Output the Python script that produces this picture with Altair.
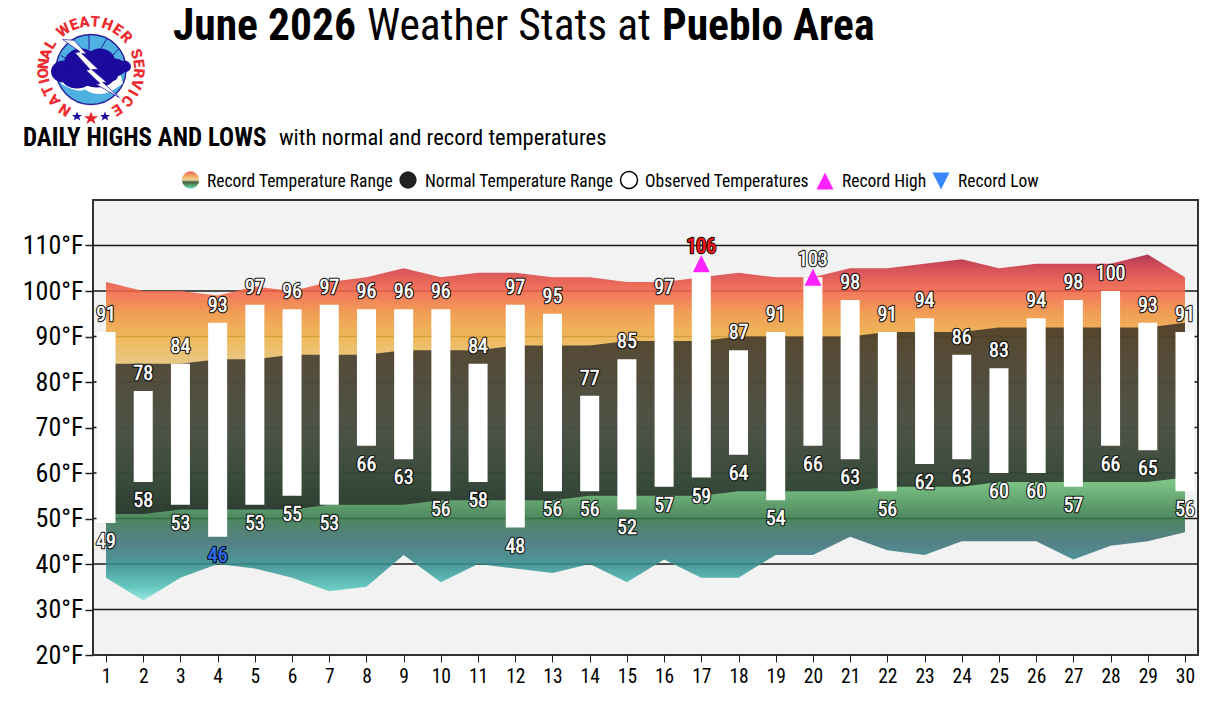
import base64
import math
import altair as alt
import pandas as pd

# ---- data -------------------------------------------------------------------
days = list(range(1, 31))
obs_high = [91,78,84,93,97,96,97,96,96,96,84,97,95,77,85,97,106,87,91,103,98,91,94,86,83,94,98,100,93,91]
obs_low = [49,58,53,46,53,55,53,66,63,56,58,48,56,56,52,57,59,64,54,66,63,56,62,63,60,60,57,66,65,56]
normal_high = [84,84,84,85,85,86,86,86,87,87,87,88,88,88,89,89,89,90,90,90,90,91,91,91,92,92,92,92,92,93]
normal_low = [51,51,52,52,52,52,53,53,53,54,54,54,54,55,55,55,55,56,56,56,56,57,57,57,58,58,58,58,58,59]
record_high = [102,100,100,99,101,100,102,103,105,103,104,104,103,103,102,102,103,104,103,103,105,105,106,107,105,106,106,106,108,103]
record_low = [37,32,37,40,39,37,34,35,42,36,40,39,38,40,36,41,37,37,42,42,46,43,42,45,45,45,41,44,45,47]
record_high_days = [17, 20]
record_high_vals = [106, 103]
y_ticks = [20, 30, 40, 50, 60, 70, 80, 90, 100, 110, 120]

FONT = "Roboto Condensed, Liberation Sans Narrow, Roboto, sans-serif"

W, H = 1105, 455
LEFT, TOP = 93, 200
X_DOM = [0.65, 30.35]
Y_DOM = [20, 120]


def dx(px):
    return X_DOM[0] + (px - LEFT) / W * (X_DOM[1] - X_DOM[0])


def dy(py):
    return Y_DOM[1] - (py - TOP) / H * (Y_DOM[1] - Y_DOM[0])


xs = alt.Scale(domain=X_DOM, nice=False, zero=False, padding=0)
ys = alt.Scale(domain=Y_DOM, nice=False, zero=False, padding=0)
x_axis = alt.Axis(values=days, format="d", grid=False, domain=False, tickColor="#222222", tickSize=7, tickWidth=1,
                  labelFont=FONT, labelFontSize=19.5, labelColor="#000000", labelPadding=5, title=None,
                  labelFlush=False, labelOverlap=False)
y_axis = alt.Axis(values=y_ticks[:-1], labelExpr="datum.value + '°F'", grid=False, domain=False,
                  tickColor="#222222", tickSize=8, tickWidth=1.5, labelFont=FONT, labelFontSize=26,
                  labelColor="#000000", labelPadding=2, title=None, labelOverlap=False)
X = lambda f: alt.X(f, type="quantitative", scale=xs, axis=x_axis)
Y = lambda f: alt.Y(f, type="quantitative", scale=ys, axis=y_axis)

df = pd.DataFrame({
    "day": days, "oh": obs_high, "ol": obs_low, "nh": normal_high,
    "nl": normal_low, "rh": record_high, "rl": record_low,
})

stops = [(108, "#a81e3c"), (105, "#d23c44"), (100, "#f46548"), (95, "#f09440"), (90, "#eeb045"),
         (85, "#e8c070"), (70, "#c8e0ac"), (58, "#6cbc76"), (50, "#37794a"), (45, "#407078"),
         (40, "#348c8c"), (35, "#52c2b8"), (32, "#90e6de")]
grad = alt.LinearGradient(
    gradient="linear", x1=0, x2=0, y1=0, y2=1,
    stops=[alt.GradientStop(offset=(108 - v) / 76, color=c) for v, c in stops],
)

grid = alt.Chart(pd.DataFrame({"v": y_ticks[1:-1]})).mark_rule(color="#1a1a1a", strokeWidth=1.4).encode(
    y=Y("v"))

record_area = alt.Chart(df).mark_area(fill=grad, opacity=0.88).encode(x=X("day"), y=Y("rh"), y2="rl")
normal_area = alt.Chart(df).mark_area(fill="#202020", opacity=0.74).encode(x=X("day"), y=Y("nh"), y2="nl")
bars = alt.Chart(df).mark_bar(color="#ffffff", size=19, clip=False).encode(x=X("day"), y=Y("ol"), y2="oh")

up = "M0,-0.5L0.5,0.5L-0.5,0.5Z"
down = "M0,0.5L0.5,-0.5L-0.5,-0.5Z"
rec_df = pd.DataFrame({"day": record_high_days, "v": record_high_vals})
tri = alt.Chart(rec_df).mark_point(shape=up, filled=True, color="#ff22ff", size=1156, opacity=1).encode(
    x=X("day"), y=Y("v"))


def labels(frame, field, yoff, fill="#ffffff"):
    base = alt.Chart(frame).encode(x=X("day"), y=Y(field), text=alt.Text(field, type="quantitative"))
    kw = dict(font=FONT, fontSize=20, baseline="middle", align="center", dy=yoff)
    return (base.mark_text(stroke="#000000", strokeWidth=2.6, strokeJoin="round", fill="#000000", **kw)
            + base.mark_text(fill=fill, stroke=fill, strokeWidth=0.6, **kw))


hi_labels = labels(df[df.day != 17], "oh", -17)
lo_labels = labels(df[df.day != 4], "ol", 19)
rec_hi_lab = labels(df[df.day == 17], "oh", -17, "#ff1a1a")
rec_lo_lab = labels(df[df.day == 4], "ol", 19, "#2f6ff0")

# ---- titles and legend ------------------------------------------------------
title_parts = [
    ("June 2026", 173, 27, 43.5, "bold"),
    ("Weather Stats at", 367, 27, 43.5, "normal"),
    ("Pueblo Area", 662, 27, 43.5, "bold"),
    ("DAILY HIGHS AND LOWS", 23, 137.5, 25, "bold"),
    ("with normal and record temperatures", 279, 138, 22.5, "normal"),
    ("Record Temperature Range", 207, 181.5, 17.5, "normal"),
    ("Normal Temperature Range", 425, 181.5, 17.5, "normal"),
    ("Observed Temperatures", 645, 181.5, 17.5, "normal"),
    ("Record High", 842, 181.5, 17.5, "normal"),
    ("Record Low", 958, 181.5, 17.5, "normal"),
]
texts = []
for t, px, py, size, weight in title_parts:
    d = pd.DataFrame({"x": [dx(px)], "y": [dy(py)], "t": [t]})
    texts.append(alt.Chart(d).mark_text(font=FONT, fontSize=size, fontWeight=weight, align="left",
                                        baseline="middle", color="#000000", clip=False)
                 .encode(x=X("x"), y=Y("y"), text="t:N"))


def sym(px, py, **kw):
    d = pd.DataFrame({"x": [dx(px)], "y": [dy(py)]})
    return alt.Chart(d).mark_point(opacity=1, **kw).encode(x=X("x"), y=Y("y"))


icon_grad = alt.LinearGradient(
    gradient="linear", x1=0, x2=0, y1=0, y2=1,
    stops=[alt.GradientStop(offset=o, color=c) for o, c in [
        (0, "#e8604f"), (0.3, "#f2b060"), (0.5, "#e8d89a"), (0.62, "#4a5a48"), (0.78, "#4f9a60"), (1, "#70d8cc")]],
)
legend_syms = [
    sym(190.5, 180, shape="circle", filled=True, fill=icon_grad, size=300, strokeWidth=0),
    sym(408, 180, shape="circle", filled=True, fill="#222222", size=300, strokeWidth=0),
    sym(629, 180, shape="circle", filled=False, stroke="#000000", fill="#ffffff", size=290, strokeWidth=1.5),
    sym(825, 181, shape=up, filled=True, color="#ff22ff", size=1156),
    sym(941, 181, shape=down, filled=True, color="#3a86f8", size=1156),
]

# ---- logo -------------------------------------------------------------------
logo_svg = """<svg xmlns='http://www.w3.org/2000/svg' width='120' height='120' viewBox='-60 -60 120 120'>
<circle r='35' fill='#4fb0e2' stroke='#2a1f9a' stroke-width='1.4'/>
<path d='M-30,14 Q-14,24 -6,20 Q6,28 20,22 L32,14 L28,0 L-28,0 Z' fill='#ffffff'/>
<g stroke='#2a1f9a' stroke-width='1' fill='none'><path d='M-2,-35 L-2,-20'/><path d='M16,-31 L8,-18'/><path d='M28,-21 L18,-10'/><path d='M-30,-14 L-20,-8'/></g>
<g fill='#1c0a9e'><ellipse cx='-27' cy='2' rx='13' ry='11'/><ellipse cx='-10' cy='-6' rx='17' ry='15'/><ellipse cx='9' cy='-8' rx='15' ry='13'/><ellipse cx='24' cy='-2' rx='11' ry='9'/><ellipse cx='33' cy='-3' rx='7' ry='6'/><ellipse cx='-14' cy='9' rx='15' ry='10'/><ellipse cx='6' cy='8' rx='17' ry='10'/><ellipse cx='20' cy='6' rx='7' ry='6'/></g>
<path d='M-28.3,-30 L-17,-29.3 L-4.3,-15.3 L-9.3,-16 L7.3,0 L0.7,0 L16.3,13.3 L11.7,12.7 L28.3,28 L5,14.7 L9,14 L-5,0.7 L-1,0 L-16,-16.7 L-11,-17.7 Z' fill='#ffffff' stroke='#1c0a9e' stroke-width='0.7'/>
<polygon points='-14,42 -12.6,45.6 -9,45.6 -11.8,47.8 -10.8,51 -14,49 -17.2,51 -16.2,47.8 -19,45.6 -15.4,45.6' fill='#1c0a9e'/>
<polygon points='0,42 1.8,46.8 7,46.8 3,49.8 4.5,54.5 0,51.6 -4.5,54.5 -3,49.8 -7,46.8 -1.8,46.8' fill='#e8262a'/>
<polygon points='14,42 15.4,45.6 19,45.6 16.2,47.8 17.2,51 14,49 10.8,51 11.8,47.8 9,45.6 12.6,45.6' fill='#1c0a9e'/>
</svg>"""
logo_url = "data:image/svg+xml;base64," + base64.b64encode(logo_svg.encode()).decode()
CX, CY = 91, 69.5
logo_d = pd.DataFrame({"x": [dx(CX)], "y": [dy(CY)], "u": [logo_url]})
logo = alt.Chart(logo_d).mark_image(width=120, height=120, clip=False).encode(x=X("x"), y=Y("y"), url="u:N")

# clock-angle of each letter on the ring, degrees from 12 o'clock
ring_letters = list("NATIONAL") + list("WEATHER") + list("SERVICE")
ring_angles = [-147, -130, -116, -104, -94.5, -83, -71, -58, -35, -20.5, -8, 5, 20, 34, 47.5,
               71, 83, 94.5, 108, 119, 131, 147]
ring = []
for ch, a in zip(ring_letters, ring_angles):
    r = 48
    px = CX + r * math.sin(math.radians(a))
    py = CY - r * math.cos(math.radians(a))
    ring.append({"x": dx(px), "y": dy(py), "t": ch, "rot": a if a >= 0 else a + 360})
ring_layer = alt.Chart(pd.DataFrame(ring)).mark_text(
    font="Roboto", fontWeight=900, fontSize=15, color="#ee2b30", baseline="middle", align="center", clip=False
).encode(x=X("x"), y=Y("y"), text="t:N", angle=alt.Angle("rot:Q", scale=None))

chart = alt.layer(
    grid, record_area, normal_area, bars, tri, hi_labels, lo_labels, rec_hi_lab, rec_lo_lab,
    logo, ring_layer, *texts, *legend_syms,
).properties(
    width=W, height=H,
    padding={"left": LEFT - 8, "top": TOP - 8, "right": 10, "bottom": 40},
    autosize=alt.AutoSizeParams(type="none"),
).configure_view(fill="#f2f2f2", stroke="#333333", strokeWidth=2)

chart.save("out.html", embed_options={"renderer": "svg", "actions": False})
